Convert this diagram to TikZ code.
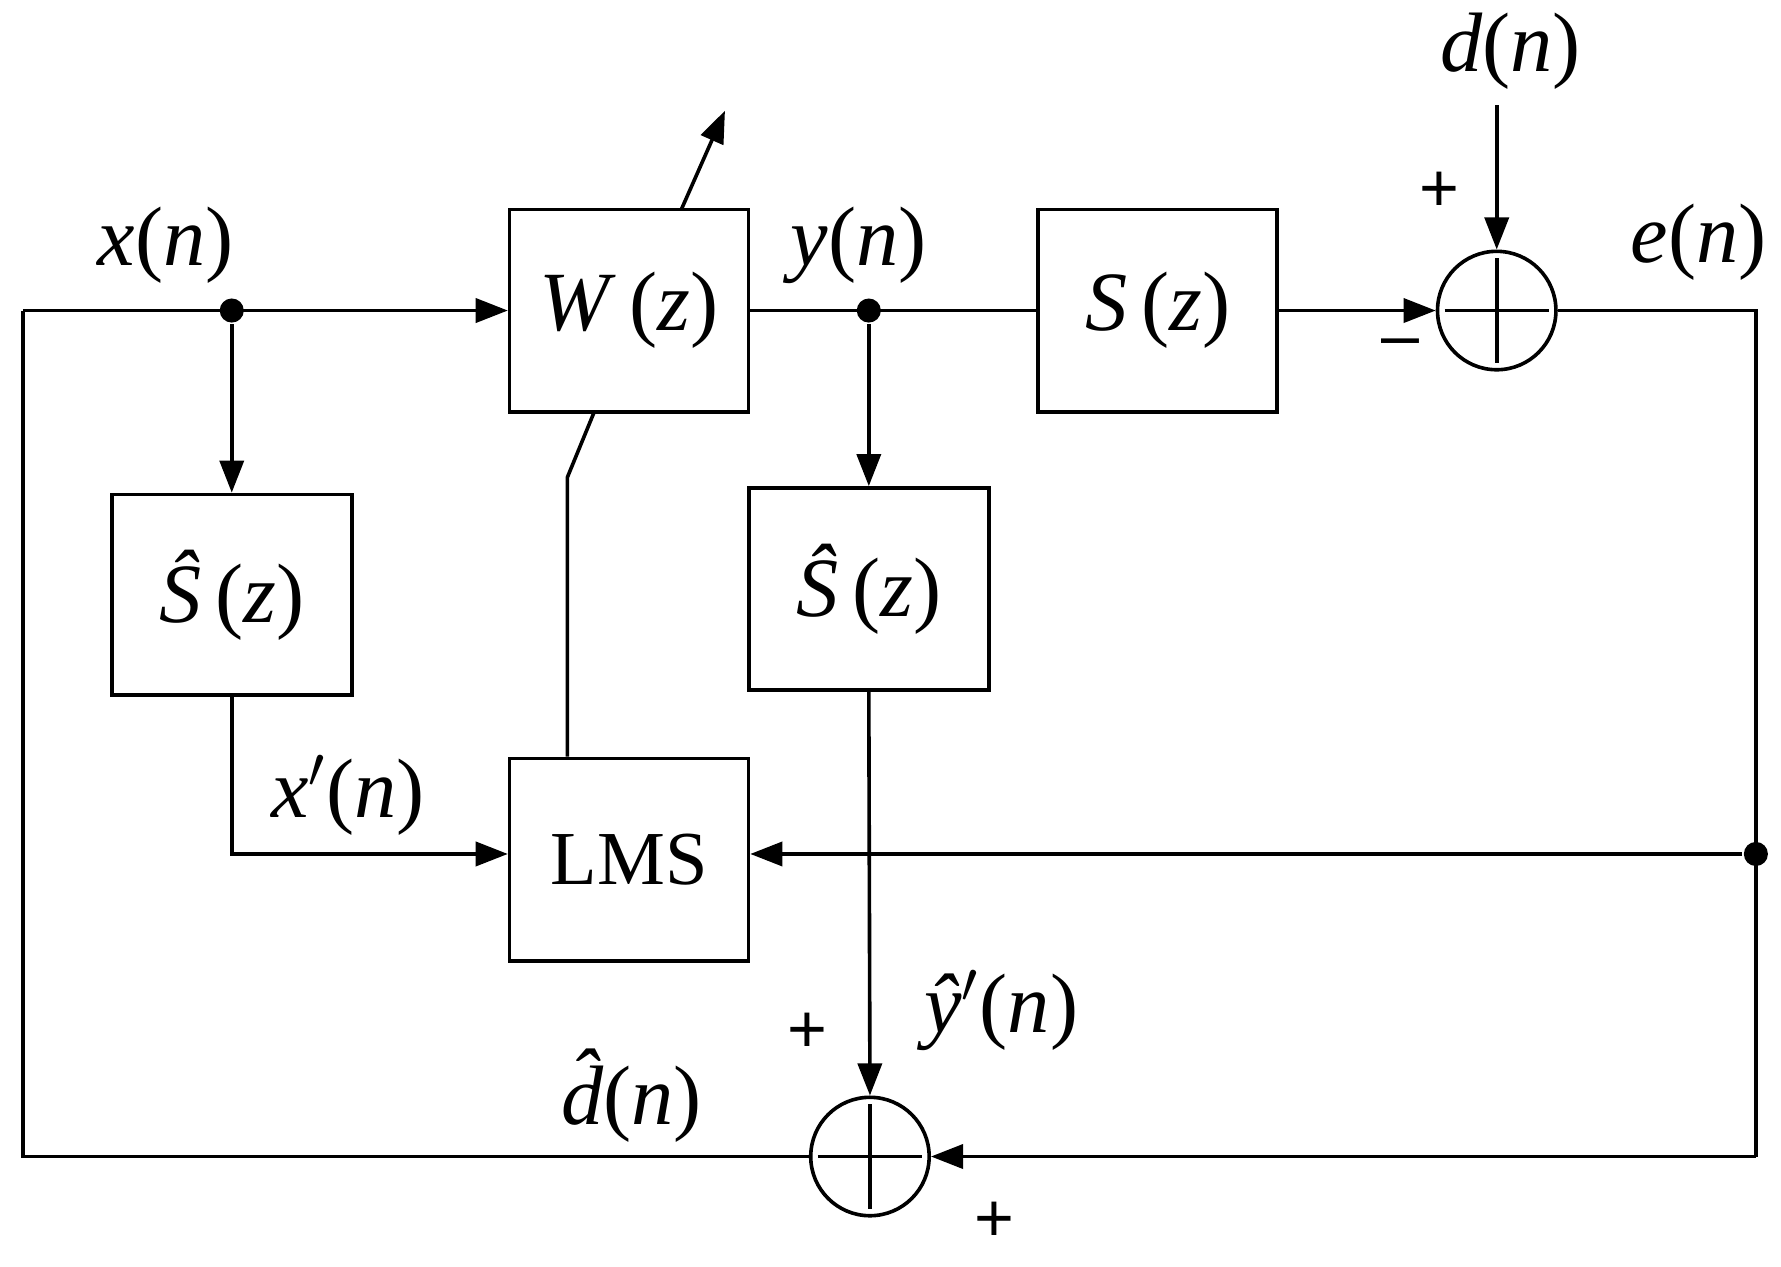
\documentclass[tikz,border=0pt]{standalone}
\usepackage{fontspec}
\setmainfont{Liberation Serif}
\newfontfamily\sansf{Liberation Sans}
\usetikzlibrary{arrows.meta}
\begin{document}
\begin{tikzpicture}[x=0.01cm,y=-0.01cm,line width=0.9pt,
  box/.style={draw,inner sep=0},
  sum/.style={draw,circle,minimum size=29.5pt,inner sep=0,path picture={\draw (path picture bounding box.center) +(-13pt,0) -- +(13pt,0) (path picture bounding box.center) +(0,-13pt) -- +(0,13pt);}},
  lab/.style={font=\fontsize{21}{24}\selectfont},
  pm/.style={font=\sansf\fontsize{17}{20}\selectfont},
  dot/.style={circle,fill,inner sep=0,minimum size=6pt},
  >={Triangle[length=8pt,width=6pt]}]
\useasboundingbox (0,0) rectangle (1560,1109);
\node[box,minimum width=59.5pt,minimum height=50.4pt,lab] (W) at (551,272) {\textit{W}\,(\textit{z})};
\node[box,minimum width=59.5pt,minimum height=50.4pt,lab] (S) at (1014,272) {\textit{S}\,(\textit{z})};
\node[box,minimum width=59.8pt,minimum height=50pt,lab] (Sh1) at (203,521) {\textit{Ŝ}\,(\textit{z})};
\node[box,minimum width=59.8pt,minimum height=50.4pt,lab] (Sh2) at (761,516) {\textit{Ŝ}\,(\textit{z})};
\node[box,minimum width=59.5pt,minimum height=50.4pt,font=\fontsize{19}{22}\selectfont] (LMS) at (551,753) {LMS};
\node[sum] (s1) at (1311,272) {};
\node[sum] (s2) at (762,1013) {};
\node[dot] (dx) at (203,272) {};
\node[dot] (dy) at (761,272) {};
\node[dot] (de) at (1538,748) {};
\coordinate (L1) at (20,272);
\coordinate (L2) at (20,1013);
\coordinate (R1) at (1538,272);
\coordinate (R2) at (1538,1013);
\coordinate (c1) at (203,748);
\coordinate (dtop) at (1311,92);
\coordinate (wa) at (597,183);
\coordinate (wb) at (635,97);
\coordinate (wl) at (520,362);
\coordinate (wk) at (497,418);
% connectors
\draw[->] (L1) -- (W.west);
\draw[->] (dx) -- (Sh1.north);
\draw (W.east) -- (S.west);
\draw[->] (dy) -- (Sh2.north);
\draw[->] (S.east) -- (s1.west);
\draw[->] (dtop) -- (s1.north);
\draw (s1.east) -- (R1) -- (R2);
\draw[->] (R2) -- (s2.east);
\draw[->] (de) -- (de -| LMS.east);
\draw[->] (Sh1.south) -- (c1) -- (c1 -| LMS.west);
\draw[->] (Sh2.south) -- (s2.north);
\draw (s2.west) -- (L2) -- (L1);
\draw[->] (wa) -- (wb);
\draw (wl) -- (wk) -- (LMS.north -| wk);
% labels
\node[lab] (lx) at (145,215) {\textit{x}(\textit{n})};
\node[lab] (ly) at (752,215) {\textit{y}(\textit{n})};
\node[lab] (le) at (1488,212) {\textit{e}(\textit{n})};
\node[lab] (ld) at (1323,45) {\textit{d}(\textit{n})};
\node[lab] (lxp) at (305,697) {\textit{x}$'$(\textit{n})};
\node[lab] (lyp) at (877,885) {\textit{ŷ}$'$(\textit{n})};
\node[lab] (ldh) at (553,960) {\textit{\rlap{\kern0.1em\raisebox{0.2em}{ˆ}}d}(\textit{n})};
\node[pm] (p1) at (1261,168) {+};
\node[pm] (m1) at (1227,305) {–};
\node[pm] (p2) at (707,905) {+};
\node[pm] (p3) at (871,1070) {+};
\end{tikzpicture}
\end{document}
